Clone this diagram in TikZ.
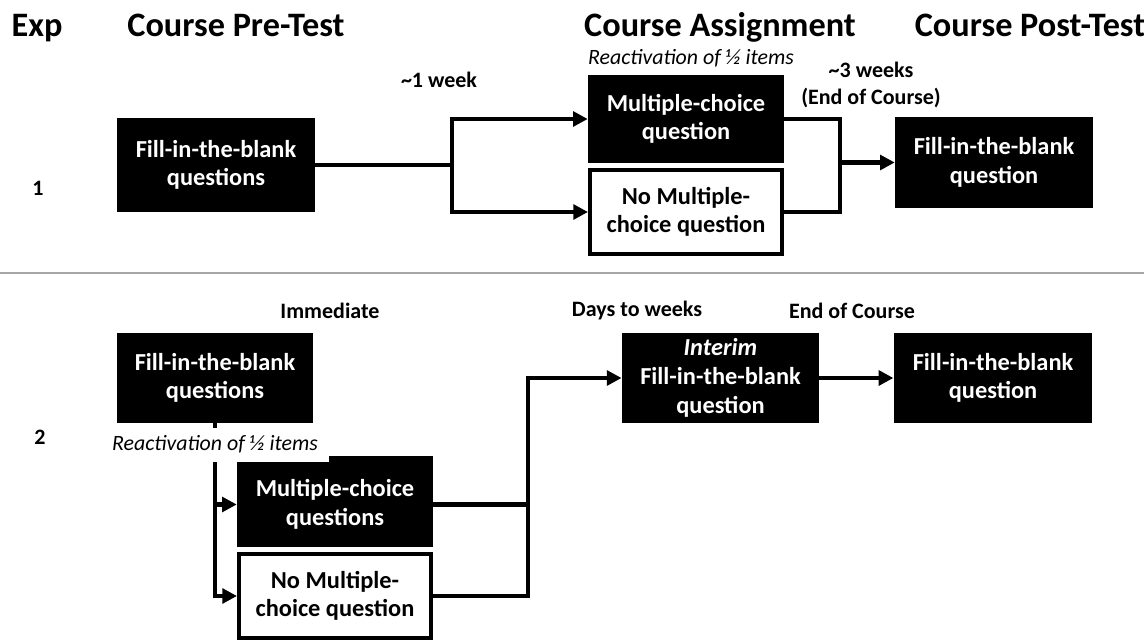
\documentclass[tikz,border=0pt]{standalone}
\usepackage{fontspec}
\setmainfont{Carlito}
\usepackage{tikz}
\usetikzlibrary{arrows.meta}

\tikzset{
  head/.style={font=\fontsize{25.7}{30}\selectfont\bfseries, anchor=base},
  lbl/.style={font=\fontsize{16.5}{20}\selectfont\bfseries, align=center},
  note/.style={font=\fontsize{16.4}{19}\selectfont\itshape},
  darkbox/.style={fill=black, text=white, align=center, inner sep=0pt,
    font=\fontsize{18.3}{21.5}\selectfont\bfseries},
  lightbox/.style={draw=black, line width=3pt, fill=white, align=center, inner sep=0pt,
    font=\fontsize{18.3}{21.5}\selectfont\bfseries},
  flow/.style={line width=3.3pt},
  flowarr/.style={line width=3.3pt, -{Triangle[length=11pt, width=11pt]}},
}

\begin{document}
\begin{tikzpicture}[x=0.75pt, y=-0.75pt]
  \useasboundingbox (0,0) rectangle (1144,641);

  % column heads
  \node[head] (exp)  at (37,37)   {Exp};
  \node[head] (pre)  at (236,37)  {Course Pre-Test};
  \node[head] (asg)  at (720,37)  {Course Assignment};
  \node[head] (post) at (1030,37) {Course Post-Test};

  % Exp 1
  \node[lbl] (one) at (38,188) {1};
  \node[darkbox, minimum width=148.5pt, minimum height=71pt] (fib1) at (216,165)
    {Fill-in-the-blank\\questions};
  \node[darkbox, minimum width=147pt, minimum height=66pt] (mc1) at (686,119)
    {Multiple-choice\\question};
  \node[lightbox, minimum width=144pt, minimum height=63pt] (nomc1) at (686,212)
    {No Multiple-\\choice question};
  \node[darkbox, minimum width=148.5pt, minimum height=68pt] (final1) at (994,162.5)
    {Fill-in-the-blank\\question};
  \node[note] (react1) at (691,58) {Reactivation of ½ items};
  \node[lbl] (wk1) at (439,80) {\textasciitilde1 week};
  \node[lbl] (wk3) at (871,85) {\textasciitilde3 weeks\\(End of Course)};

  \coordinate (split1) at (452,165);
  \coordinate (join1) at (840,162.5);
  \draw[flowarr] (fib1.east) -- (split1) |- (mc1.west);
  \draw[flowarr] (split1) |- (nomc1.west);
  \draw[flow] (mc1.east) -| (join1);
  \draw[flow] (nomc1.east) -| (join1);
  \draw[flowarr] (join1) -- (final1.west);

  % divider
  \draw[gray!70, line width=0.8pt] (0,273) -- (1144,273);

  % Exp 2
  \node[lbl] (two) at (40,437) {2};
  \node[darkbox, minimum width=147pt, minimum height=67.5pt] (fib2) at (215,378)
    {Fill-in-the-blank\\questions};
  \node[darkbox, minimum width=147pt, minimum height=64pt] (mc2) at (335,504.5)
    {Multiple-choice\\questions};
  \fill (329,456) rectangle (433,463);
  \node[lightbox, minimum width=144pt, minimum height=63pt] (nomc2) at (335,596)
    {No Multiple-\\choice question};
  \node[darkbox, minimum width=148pt, minimum height=67.5pt] (interim) at (720.5,378)
    {\textit{Interim}\\Fill-in-the-blank\\question};
  \node[darkbox, minimum width=149pt, minimum height=67.5pt] (final2) at (993,378)
    {Fill-in-the-blank\\question};
  \node[note] (react2) at (215,444) {Reactivation of ½ items};
  \node[lbl] (imm) at (330,311) {Immediate};
  \node[lbl] (days) at (637,311) {Days to weeks};
  \node[lbl] (eoc) at (852,311) {End of Course};

  \coordinate (stub) at (215,428);
  \coordinate (split2) at (215,462);
  \coordinate (join2) at (528,378);
  \draw[flow] (fib2.south) -- (stub);
  \draw[flowarr] (split2) |- (mc2.west);
  \draw[flowarr] (split2) |- (nomc2.west);
  \draw[flow] (mc2.east) -| (join2);
  \draw[flowarr] (nomc2.east) -| (join2) -- (interim.west);
  \draw[flowarr] (interim.east) -- (final2.west);
\end{tikzpicture}
\end{document}
